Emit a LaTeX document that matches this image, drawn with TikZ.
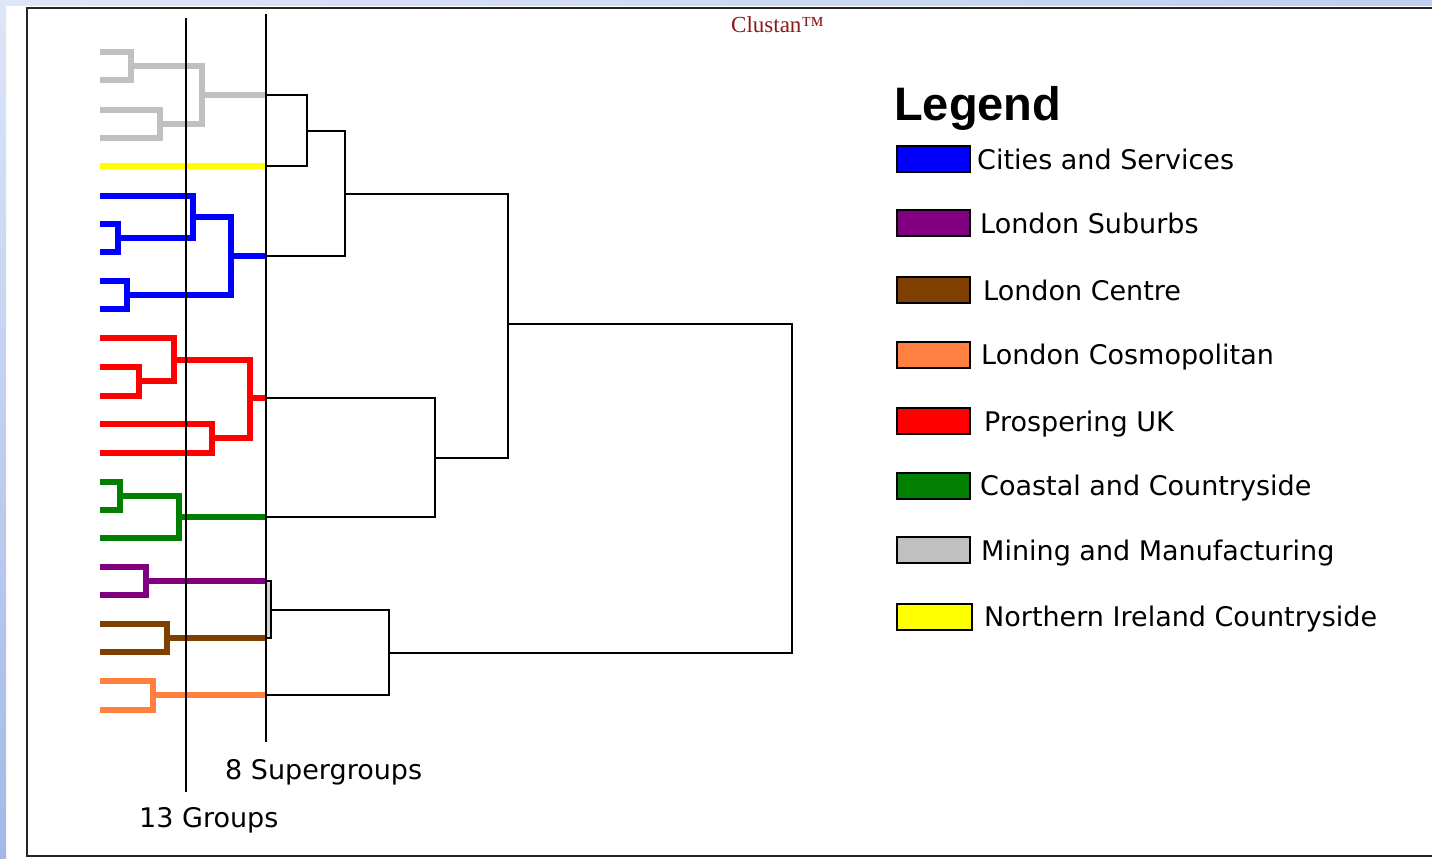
\documentclass[tikz,border=0pt]{standalone}
\usepackage{fontspec}
\setmainfont{DejaVu Sans}
\newfontfamily\headfont{Liberation Sans}
\newfontfamily\brandfont{Liberation Serif}

\definecolor{cblue}{HTML}{0000FF}
\definecolor{cpurple}{HTML}{800080}
\definecolor{cbrown}{HTML}{7F3F00}
\definecolor{corange}{HTML}{FF8040}
\definecolor{cred}{HTML}{FF0000}
\definecolor{cgreen}{HTML}{007F00}
\definecolor{cgray}{HTML}{C0C0C0}
\definecolor{cyellow}{HTML}{FFFF00}
\definecolor{brandred}{HTML}{8B1A1A}
\definecolor{slideblue}{HTML}{A4B8E8}
\definecolor{slidepale}{HTML}{DCE6F8}

\begin{document}
\begin{tikzpicture}[x=1pt, y=-1pt,
  leaf/.style={line width=6pt},
  link/.style={line width=2pt, black},
  cutline/.style={line width=2pt, black},
  swatch/.style={draw=black, line width=2pt, minimum width=73pt, minimum height=26pt, inner sep=0pt},
  legtext/.style={anchor=base west, inner sep=0pt, font=\fontsize{27}{30}\selectfont}]

% page and slide background
\useasboundingbox (0,0) rectangle (1432,859);
\clip (0,0) rectangle (1432,859);
\fill[white] (0,0) rectangle (1432,859);
\shade[top color=slidepale, bottom color=slideblue] (0,0) rectangle (6,859);
\shade[left color=slidepale, right color=slideblue!70] (0,0) rectangle (1432,6);

% frame (right side runs off the page)
\draw[line width=2.8pt, black!85] (27,8) rectangle (1460,856);

% brand mark
\node[anchor=base west, inner sep=0pt, text=brandred, font=\brandfont\fontsize{23}{26}\selectfont]
  (brand) at (731,33) {Clustan™};

% ---- coloured groups ----
% Mining and Manufacturing
\draw[leaf, cgray] (100,52) -| (131,66) |- (100,80);
\draw[leaf, cgray] (100,110) -| (160,124) |- (100,138);
\draw[leaf, cgray] (131,66) -| (202,95) |- (160,124);
\draw[leaf, cgray] (202,95) -- (266,95);

% Northern Ireland Countryside
\draw[leaf, cyellow] (100,166) -- (266,166);

% Cities and Services
\draw[leaf, cblue] (100,224) -| (118,238) |- (100,252);
\draw[leaf, cblue] (100,196) -| (193,217) |- (118,238);
\draw[leaf, cblue] (100,281) -| (127,295) |- (100,309);
\draw[leaf, cblue] (193,217) -| (231,256) |- (127,295);
\draw[leaf, cblue] (231,256) -- (266,256);

% Prospering UK
\draw[leaf, cred] (100,367) -| (139,381) |- (100,396);
\draw[leaf, cred] (100,338) -| (174,360) |- (139,381);
\draw[leaf, cred] (100,424) -| (212,438) |- (100,453);
\draw[leaf, cred] (174,360) -| (250,398) |- (212,438);
\draw[leaf, cred] (250,398) -- (266,398);

% Coastal and Countryside
\draw[leaf, cgreen] (100,482) -| (120,496) |- (100,510);
\draw[leaf, cgreen] (120,496) -| (179,517) |- (100,538);
\draw[leaf, cgreen] (179,517) -- (266,517);

% London Suburbs
\draw[leaf, cpurple] (100,567) -| (146,581) |- (100,595);
\draw[leaf, cpurple] (146,581) -- (266,581);

% London Centre
\draw[leaf, cbrown] (100,624) -| (167,638) |- (100,652);
\draw[leaf, cbrown] (167,638) -- (266,638);

% London Cosmopolitan
\draw[leaf, corange] (100,681) -| (153,695) |- (100,710);
\draw[leaf, corange] (153,695) -- (266,695);

% ---- black links above the supergroups ----
\draw[link] (266,95) -| (307,131) |- (266,166);
\draw[link] (307,131) -| (345,194) |- (266,256);
\draw[link] (266,398) -| (435,458) |- (266,517);
\draw[link] (345,194) -| (508,324) |- (435,458);
\fill[gray!35] (266,581) rectangle (271,638);
\draw[link] (266,581) -| (271,610) |- (266,638);
\draw[link] (271,610) -| (389,653) |- (266,695);
\draw[link] (508,324) -| (792,488) |- (389,653);

% cut lines
\draw[cutline] (186,18) -- (186,792);
\draw[cutline] (266,14) -- (266,742);
\node[legtext] (supers) at (225,779) {8 Supergroups};
\node[legtext] (groups) at (139,827) {13 Groups};

% ---- legend ----
\node[anchor=base west, inner sep=0pt, font=\headfont\bfseries\fontsize{47}{50}\selectfont]
  (legtitle) at (894,120) {Legend};

\node[swatch, fill=cblue] (swcities) at (933.5,159) {};
\node[legtext] (lgcities) at (977,169) {Cities and Services};

\node[swatch, fill=cpurple] (swsuburbs) at (933.5,223) {};
\node[legtext] (lgsuburbs) at (980,233) {London Suburbs};

\node[swatch, fill=cbrown] (swcentre) at (933.5,290) {};
\node[legtext] (lgcentre) at (983,300) {London Centre};

\node[swatch, fill=corange] (swcosmo) at (933.5,354.5) {};
\node[legtext] (lgcosmo) at (981,364) {London Cosmopolitan};

\node[swatch, fill=cred] (swprosper) at (933.5,421) {};
\node[legtext] (lgprosper) at (984,431) {Prospering UK};

\node[swatch, fill=cgreen] (swcoastal) at (933.5,485.5) {};
\node[legtext] (lgcoastal) at (980,495) {Coastal and Countryside};

\node[swatch, fill=cgray] (swmining) at (933.5,550) {};
\node[legtext] (lgmining) at (981,560) {Mining and Manufacturing};

\node[swatch, fill=cyellow, minimum width=75pt] (swnorth) at (934.5,616.5) {};
\node[legtext] (lgnorth) at (984,626) {Northern Ireland Countryside};

\end{tikzpicture}
\end{document}
